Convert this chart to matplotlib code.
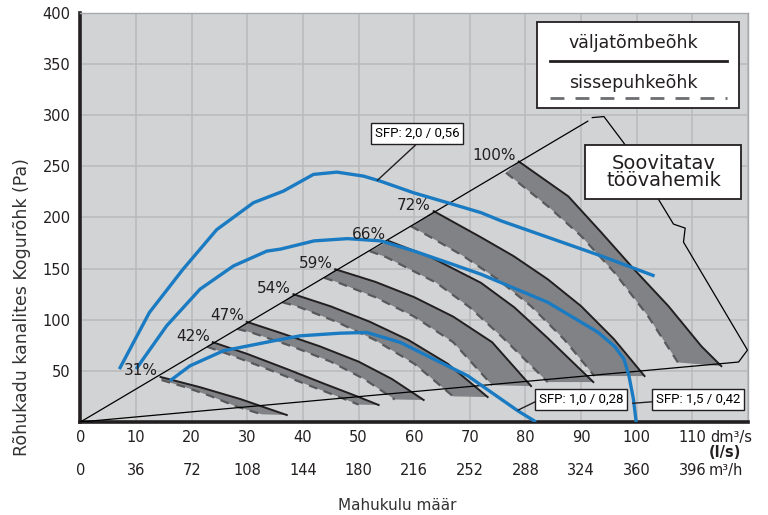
import matplotlib.pyplot as plt
from matplotlib.patches import Rectangle

# axis ticks
flow_ticks = [0, 10, 20, 30, 40, 50, 60, 70, 80, 90, 100, 110]
flow_labels = ["0", "10", "20", "30", "40", "50", "60", "70", "80", "90", "100", "110"]
m3h_labels = ["0", "36", "72", "108", "144", "180", "216", "252", "288", "324", "360", "396"]
pressure_ticks = [50, 100, 150, 200, 250, 300, 350, 400]

# fan speed curves, solid = exhaust (väljatõmbeõhk), dashed = supply (sissepuhkeõhk)
speeds = ["31%", "42%", "47%", "54%", "59%", "66%", "72%", "100%"]
exhaust_q = [
    [14.4, 21.5, 28.7, 37.1],
    [23.8, 30, 37, 44, 50, 53.6],
    [29.9, 36, 43, 50, 56, 61.7],
    [38.3, 45, 52, 59, 66, 73.2],
    [45.8, 53, 60, 67, 74, 81],
    [55.4, 63, 72, 78, 84, 92.2],
    [63.5, 72, 77.9, 84, 90, 95.9, 101.4],
    [78.8, 87.7, 93.6, 99.5, 105.7, 111.6, 115.2],
]
exhaust_p = [
    [44, 34, 22.5, 6.8],
    [78, 66.5, 52, 37, 24.5, 16.6],
    [97.9, 87, 74, 59, 42, 21.5],
    [124.9, 113, 98, 80, 57, 24.4],
    [149.3, 137, 122, 103, 78, 35.1],
    [176.9, 161, 136, 112, 82, 39],
    [206.1, 180.5, 162, 139.5, 113.2, 81, 44.9],
    [254.6, 220.5, 185.4, 149.3, 113.2, 74.1, 54.6],
]
supply_q = [
    [14.6, 18.9, 23.4, 27.8, 32.6],
    [22.8, 26.5, 33.5, 40.5, 46.5, 50],
    [28.2, 31, 38, 45, 51, 56.5],
    [36.3, 39, 46, 53, 60, 67],
    [43.8, 46, 53, 60, 67, 74],
    [52.0, 55, 64, 70, 76, 84],
    [59.4, 63, 68.9, 75, 81, 86.9, 92.4],
    [76.5, 84, 90, 96, 102, 107.4],
]
supply_p = [
    [41, 34, 25.4, 15.6, 7.5],
    [73.5, 66.5, 52, 37, 24.5, 17],
    [91, 87, 74, 59, 42, 22],
    [117, 113, 98, 80, 57, 25],
    [141, 137, 122, 103, 78, 36],
    [167, 161, 136, 112, 82, 39],
    [191.4, 180.5, 162, 139.5, 113.2, 81, 44.9],
    [243.6, 211, 181.8, 146, 103.7, 58.2],
]

# SFP curves (blue)
sfp20_q = [7.0, 12.4, 18.4, 24.5, 31.1, 36.5, 41.9, 46.1, 50.9, 53.9, 59.9, 66, 72, 75.7, 93.6, 103.2]
sfp20_p = [51.7, 107, 149, 188, 214.3, 225.7, 242, 244.2, 240.3, 235.4, 224, 214.3, 204.6, 196.4, 162.3, 142.7]
sfp15_q = [10, 15.5, 21.5, 27.5, 33.5, 36, 42, 48, 54, 60, 66, 72, 84, 93, 96, 97.7, 98.6, 99.4, 99.9]
sfp15_p = [51.7, 94, 129.8, 152.5, 167, 169, 177, 179.2, 177, 167, 155.8, 144.4, 117, 87.8, 74, 61.5, 44.9, 22.4, 0]
sfp10_q = [16.1, 19.7, 25.7, 34.7, 39.5, 46.7, 51.5, 57.5, 63.5, 69.6, 75.6, 78.6, 81.9]
sfp10_p = [40.3, 54.9, 69.6, 79.3, 84.2, 86.8, 87.5, 77.8, 61.5, 45.2, 22.4, 11, 0]

# recommended working range outline
diag_q = [0, 91.2]
diag_p = [0, 294]
range_q = [92.0, 94.1, 97.6, 101, 103.9, 106.6, 108.7, 108.4, 119.9, 118.3, 0]
range_p = [297.5, 298.5, 273.2, 246, 217.6, 193.4, 189.5, 175.8, 70.3, 58.6, 0]

ink = "#231f20"
blue = "#1b7bc2"
band = "#808285"

plt.rcParams["font.family"] = "DejaVu Sans"
fig = plt.figure(figsize=(7.68, 5.15), dpi=100)
ax = fig.add_axes([0.1047, 0.1806, 0.974 - 0.1047, 0.9753 - 0.1806])
ax.set_facecolor("#d1d3d4")
ax.set_xlim(0, 120)
ax.set_ylim(0, 400)
ax.set_xticks(range(0, 121, 10))
ax.set_yticks(range(0, 401, 50))
ax.grid(True, color="#b9babc", lw=1.1, zorder=0)
ax.set_axisbelow(True)
ax.tick_params(length=0, labelsize=10.5, colors=ink, pad=7)
ax.set_yticklabels([""] + [str(v) for v in pressure_ticks])
ax.set_xticklabels([""] * 13)
for s in ["left", "bottom"]:
    ax.spines[s].set_linewidth(2.6)
    ax.spines[s].set_color(ink)
for s in ["top", "right"]:
    ax.spines[s].set_linewidth(1)
    ax.spines[s].set_color("#a7a9ac")

# x tick labels, two rows
xt = ax.get_xaxis_transform()
for q, a, b in zip(flow_ticks, flow_labels, m3h_labels):
    ax.text(q, -0.037, a, transform=xt, ha="center", va="center", fontsize=10.5, color=ink)
    ax.text(q, -0.118, b, transform=xt, ha="center", va="center", fontsize=10.5, color=ink)
ax.text(113.2, -0.037, "dm³/s", transform=xt, ha="left", va="center", fontsize=10.5, color=ink)
ax.text(112.9, -0.074, "(l/s)", transform=xt, ha="left", va="center", fontsize=10.5,
        color=ink, fontweight="bold")
ax.text(112.9, -0.118, "m³/h", transform=xt, ha="left", va="center", fontsize=10.5, color=ink)

fig.text(397 / 768, 1 - 505 / 515, "Mahukulu määr", ha="center", va="center", fontsize=11, color="#333333")
fig.text(22 / 768, 1 - 307 / 515, "Rõhukadu kanalites Kogurõhk (Pa)", rotation=90,
         ha="center", va="center", fontsize=12.5, color="#333333")

# fan bands
for name, sq, sp, dq, dp in zip(speeds, exhaust_q, exhaust_p, supply_q, supply_p):
    ax.fill(sq + dq[::-1], sp + dp[::-1], color=band, lw=0, zorder=2)
    ax.plot(dq, dp, color="#58595b", lw=1.6, ls=(0, (4, 3)), zorder=3)
    ax.plot(sq, sp, color=ink, lw=1.4, zorder=3)
    ax.annotate(name, (sq[0], sp[0]), xytext=(-2, -1), textcoords="offset points",
                ha="right", va="bottom", fontsize=11, color=ink, zorder=6)

# working range outline
ax.plot(diag_q, diag_p, color="black", lw=0.9, zorder=4)
ax.plot(range_q, range_p, color="black", lw=0.9, zorder=4)

# SFP curves
for q, p in [(sfp20_q, sfp20_p), (sfp15_q, sfp15_p), (sfp10_q, sfp10_p)]:
    ax.plot(q, p, color=blue, lw=2.4, solid_capstyle="butt", zorder=5)

sfp_box = dict(boxstyle="square,pad=0.3", fc="white", ec=ink, lw=1)
ax.plot([60.2, 53.4], [270.5, 236.3], color=ink, lw=1, zorder=6)
ax.text(60.5, 282, "SFP: 2,0 / 0,56", ha="center", va="center", fontsize=9.5,
        family="Roboto", bbox=sfp_box, zorder=7)
ax.plot([82.4, 78.7], [21.5, 11.7], color=ink, lw=1, zorder=6)
ax.text(90.0, 22.3, "SFP: 1,0 / 0,28", ha="center", va="center", fontsize=9.5,
        family="Roboto", bbox=sfp_box, zorder=7)
ax.plot([99.3, 102.9], [18.3, 19.8], color=ink, lw=1, zorder=6)
ax.text(111.0, 22.3, "SFP: 1,5 / 0,42", ha="center", va="center", fontsize=9.5,
        family="Roboto", bbox=sfp_box, zorder=7)

# recommended range label
ax.add_patch(Rectangle((90.7, 217.8), 28.1, 52.7, fc="white", ec=ink, lw=1.3, zorder=7))
ax.text(104.8, 244, "Soovitatav\ntöövahemik", ha="center", va="center", fontsize=14,
        linespacing=0.85, color=ink, zorder=8)

# legend box
ax.add_patch(Rectangle((82.1, 306.6), 36.2, 84.0, fc="white", ec=ink, lw=1.3, zorder=7))
ax.text(99.4, 370, "väljatõmbeõhk", ha="center", va="center", fontsize=12.5, color=ink, zorder=8)
ax.plot([84.4, 116.3], [352.5, 352.5], color=ink, lw=2, zorder=8)
ax.text(99.4, 331, "sissepuhkeõhk", ha="center", va="center", fontsize=12.5, color=ink, zorder=8)
ax.plot([84.4, 116.3], [316.4, 316.4], color="#6d6e71", lw=2, ls=(0, (5, 4)), zorder=8)

fig.savefig("out.png", dpi=100)
